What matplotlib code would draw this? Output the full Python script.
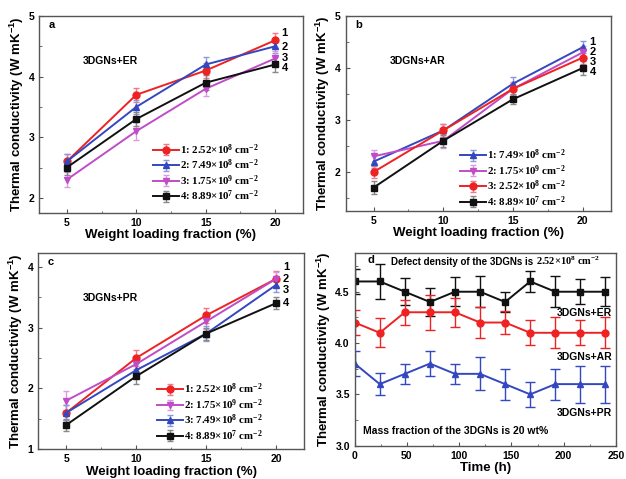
import numpy as np
import matplotlib.pyplot as plt
from matplotlib.ticker import MultipleLocator

plt.rcParams['font.family'] = ['Liberation Sans', 'DejaVu Sans']
plt.rcParams['font.weight'] = 'bold'
plt.rcParams['mathtext.default'] = 'regular'

# x values for panels a-c
frac = [5, 10, 15, 20]

# panel a (ER)
a_labels = ['1: 2.52×10$^{8}$ cm$^{-2}$', '2: 7.49×10$^{8}$ cm$^{-2}$',
            '3: 1.75×10$^{9}$ cm$^{-2}$', '4: 8.89×10$^{7}$ cm$^{-2}$']
a_vals = [[2.6, 3.7, 4.1, 4.6],
          [2.6, 3.5, 4.2, 4.5],
          [2.3, 3.1, 3.8, 4.3],
          [2.5, 3.3, 3.9, 4.2]]
a_err = [[0.13, 0.12, 0.12, 0.12],
         [0.13, 0.12, 0.13, 0.11],
         [0.12, 0.15, 0.12, 0.12],
         [0.12, 0.12, 0.12, 0.13]]
a_styles = ['red', 'blue', 'mag', 'black']

# panel b (AR)
b_labels = ['1: 7.49×10$^{8}$ cm$^{-2}$', '2: 1.75×10$^{9}$ cm$^{-2}$',
            '3: 2.52×10$^{8}$ cm$^{-2}$', '4: 8.89×10$^{7}$ cm$^{-2}$']
b_vals = [[2.2, 2.8, 3.7, 4.4],
          [2.3, 2.6, 3.6, 4.3],
          [2.0, 2.8, 3.6, 4.2],
          [1.7, 2.6, 3.4, 4.0]]
b_err = [[0.12, 0.12, 0.12, 0.12],
         [0.12, 0.13, 0.12, 0.12],
         [0.12, 0.12, 0.13, 0.12],
         [0.12, 0.12, 0.1, 0.13]]
b_styles = ['blue', 'mag', 'red', 'black']

# panel c (PR)
c_labels = ['1: 2.52×10$^{8}$ cm$^{-2}$', '2: 1.75×10$^{9}$ cm$^{-2}$',
            '3: 7.49×10$^{8}$ cm$^{-2}$', '4: 8.89×10$^{7}$ cm$^{-2}$']
c_vals = [[1.6, 2.5, 3.2, 3.8],
          [1.8, 2.4, 3.1, 3.8],
          [1.6, 2.3, 2.9, 3.7],
          [1.4, 2.2, 2.9, 3.4]]
c_err = [[0.12, 0.13, 0.12, 0.13],
         [0.16, 0.12, 0.12, 0.12],
         [0.12, 0.12, 0.12, 0.12],
         [0.1, 0.12, 0.1, 0.1]]
c_styles = ['red', 'mag', 'blue', 'black']

# panel d (stability over time)
hours = [0, 24, 48, 72, 96, 120, 144, 168, 192, 216, 240]
er = [4.6, 4.6, 4.5, 4.4, 4.5, 4.5, 4.4, 4.6, 4.5, 4.5, 4.5]
er_err = [0.12, 0.17, 0.13, 0.14, 0.14, 0.15, 0.1, 0.1, 0.15, 0.12, 0.14]
ar = [4.2, 4.1, 4.3, 4.3, 4.3, 4.2, 4.2, 4.1, 4.1, 4.1, 4.1]
ar_err = [0.12, 0.14, 0.12, 0.17, 0.14, 0.15, 0.11, 0.12, 0.15, 0.12, 0.15]
pr = [3.8, 3.6, 3.7, 3.8, 3.7, 3.7, 3.6, 3.5, 3.6, 3.6, 3.6]
pr_err = [0.12, 0.11, 0.1, 0.12, 0.1, 0.16, 0.15, 0.12, 0.15, 0.18, 0.18]

STY = {
    'red': dict(color='#ee2222', ecolor='#f07a8a', marker='o'),
    'blue': dict(color='#3348c0', ecolor='#8a9ad8', marker='^'),
    'mag': dict(color='#c04cc8', ecolor='#dc9ae0', marker='v'),
    'black': dict(color='#111111', ecolor='#888888', marker='s'),
}

fig = plt.figure(figsize=(6.26, 4.79), dpi=100)
ax_a = fig.add_axes([0.0623, 0.5553, 0.4217, 0.4113])
ax_b = fig.add_axes([0.5522, 0.5595, 0.4233, 0.4071])
ax_c = fig.add_axes([0.0612, 0.0620, 0.4244, 0.4092])
ax_d = fig.add_axes([0.5666, 0.0695, 0.4172, 0.4029])


def style_axes(ax):
    for s in ax.spines.values():
        s.set_color('#555555')
        s.set_linewidth(1.0)
    ax.tick_params(which='both', direction='in', labelsize=7.5, color='#555555')
    ax.tick_params(which='major', length=3)
    ax.tick_params(which='minor', length=1.8)
    ax.tick_params(axis='both', which='both', top=False, right=False)
    for lab in ax.get_xticklabels() + ax.get_yticklabels():
        lab.set_fontweight('bold')
    ax.set_ylabel('Thermal conductivity (W mK$^{-1}$)', fontsize=9.5, fontweight='bold', labelpad=2)


def panel(ax, labels, vals, errs, styles, ylim, yticks, letter, name, numy, numx, leg_at):
    for lab, v, e, st in zip(labels, vals, errs, styles):
        s = STY[st]
        ax.errorbar(frac, v, yerr=e, color=s['color'], ecolor=s['ecolor'], marker=s['marker'],
                    markersize=5, lw=1.4, elinewidth=1, capsize=2.5, label=lab)
    ax.set_xlim(3, 22)
    ax.set_ylim(*ylim)
    ax.set_xticks(frac)
    ax.xaxis.set_minor_locator(MultipleLocator(2.5))
    ax.set_yticks(yticks)
    ax.yaxis.set_minor_locator(MultipleLocator(0.5))
    ax.set_xlabel('Weight loading fraction (%)', fontsize=9.5, fontweight='bold', labelpad=1)
    style_axes(ax)
    ax.text(0.035, 0.94, letter, transform=ax.transAxes, fontsize=8, fontweight='bold')
    ax.text(0.167, 0.755, name, transform=ax.transAxes, fontsize=7.5, fontweight='bold')
    for i, y in enumerate(numy):
        ax.text(numx, y, str(i + 1), fontsize=8, fontweight='bold', va='center')
    ax.legend(loc='center left', bbox_to_anchor=leg_at, frameon=False,
              prop={'family': 'Liberation Serif', 'weight': 'bold', 'size': 7.8},
              handlelength=2.4, labelspacing=0.08, handletextpad=0.1, borderpad=0,
              borderaxespad=0)


panel(ax_a, a_labels, a_vals, a_err, a_styles, (1.75, 5), [2, 3, 4, 5], 'a', '3DGNs+ER',
      [4.72, 4.49, 4.31, 4.14], 20.45, (0.43, 0.205))
panel(ax_b, b_labels, b_vals, b_err, b_styles, (1.25, 5), [2, 3, 4, 5], 'b', '3DGNs+AR',
      [4.5, 4.31, 4.12, 3.92], 20.5, (0.431, 0.168))
panel(ax_c, c_labels, c_vals, c_err, c_styles, (1, 4.22), [1, 2, 3, 4], 'c', '3DGNs+PR',
      [3.99, 3.80, 3.62, 3.40], 20.5, (0.447, 0.189))

# panel d
for v, e, st in [(er, er_err, 'black'), (ar, ar_err, 'red'), (pr, pr_err, 'blue')]:
    s = STY[st]
    ax_d.errorbar(hours, v, yerr=e, color=s['color'], ecolor=s['color'], marker=s['marker'],
                  markersize=5, lw=1.4, elinewidth=1, capsize=3.5)
ax_d.set_xlim(0, 250)
ax_d.set_ylim(3.0, 4.88)
ax_d.set_xticks([0, 50, 100, 150, 200, 250])
ax_d.xaxis.set_minor_locator(MultipleLocator(25))
ax_d.set_yticks([3.0, 3.5, 4.0, 4.5])
ax_d.yaxis.set_minor_locator(MultipleLocator(0.25))
ax_d.yaxis.set_major_formatter(plt.FormatStrFormatter('%.1f'))
ax_d.set_xlabel('Time (h)', fontsize=9.5, fontweight='bold', labelpad=1)
style_axes(ax_d)
ax_d.text(0.05, 0.945, 'd', transform=ax_d.transAxes, fontsize=8, fontweight='bold')
t1 = ax_d.text(0.14, 0.935, 'Defect density of the 3DGNs is ', transform=ax_d.transAxes,
               fontsize=7, fontweight='bold')
ax_d.annotate('2.52×10$^{8}$ cm$^{-2}$', xy=(1, 0), xycoords=t1, va='bottom',
              fontsize=7.5, fontweight='bold', family='Liberation Serif')
ax_d.text(0.985, 0.69, '3DGNs+ER', transform=ax_d.transAxes, fontsize=7.5, fontweight='bold',
          ha='right', va='center')
ax_d.text(0.985, 0.458, '3DGNs+AR', transform=ax_d.transAxes, fontsize=7.5, fontweight='bold',
          ha='right', va='center')
ax_d.text(0.985, 0.171, '3DGNs+PR', transform=ax_d.transAxes, fontsize=7.5, fontweight='bold',
          ha='right', va='center')
ax_d.text(0.03, 0.078, 'Mass fraction of the 3DGNs is 20 wt%', transform=ax_d.transAxes,
          fontsize=7.5, fontweight='bold', va='center')

fig.savefig('out.png', dpi=100)
